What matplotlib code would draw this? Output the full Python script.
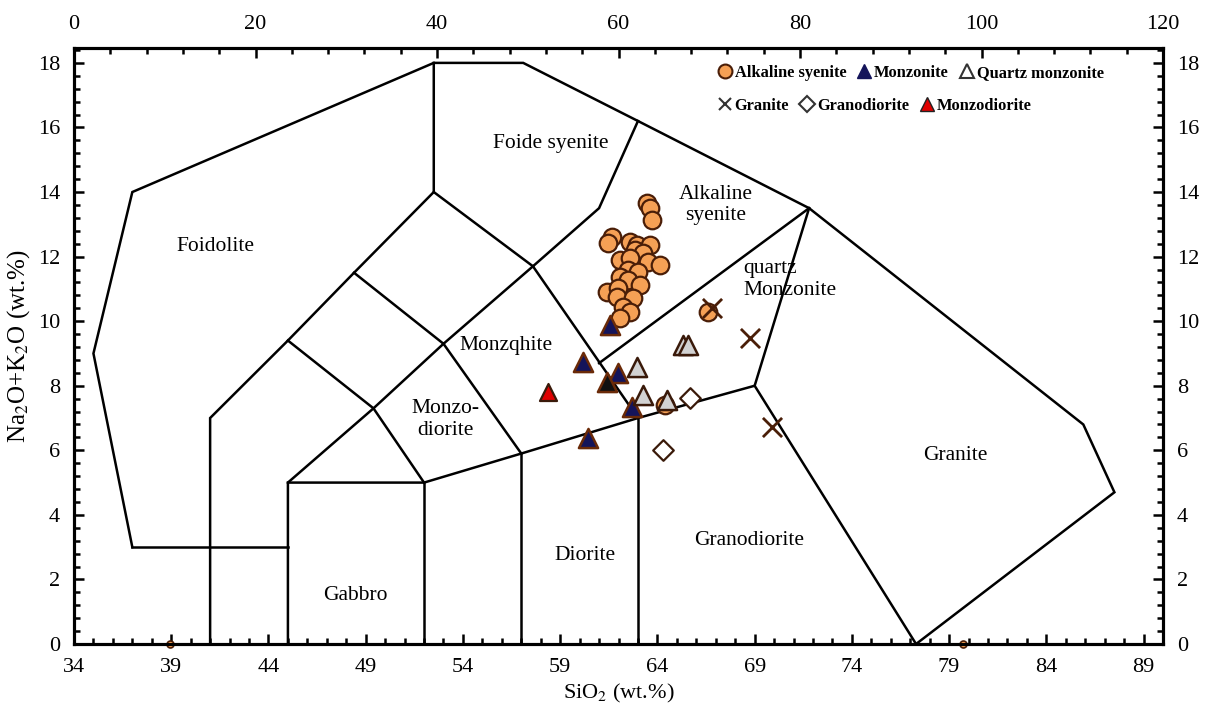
import matplotlib
matplotlib.use("Agg")
import matplotlib.pyplot as plt
from matplotlib.ticker import MultipleLocator
from matplotlib.lines import Line2D

plt.rcParams['font.family'] = ['Liberation Serif', 'DejaVu Serif']
plt.rcParams['mathtext.fontset'] = 'stix'

# TAS field boundaries (SiO2, Na2O+K2O)
boundaries = [
    [(37, 3), (35, 9), (37, 14), (52.5, 18), (57.1, 18), (63, 16.2), (71.8, 13.5),
     (85.9, 6.8), (87.5, 4.7), (77.3, 0)],
    [(37, 3), (45, 3)],
    [(41, 0), (41, 7), (45, 9.4), (48.4, 11.5), (52.5, 14), (52.5, 18)],
    [(52.5, 14), (57.6, 11.7), (61, 13.5), (63, 16.2)],
    [(48.4, 11.5), (53, 9.3), (57.6, 11.7)],
    [(45, 9.4), (49.4, 7.3), (52, 5)],
    [(45, 0), (45, 5), (49.4, 7.3), (53, 9.3)],
    [(53, 9.3), (57, 5.9)],
    [(45, 5), (52, 5), (57, 5.9), (63, 7), (69, 8), (71.8, 13.5)],
    [(57.6, 11.7), (63, 7)],
    [(61, 8.7), (71.8, 13.5)],
    [(69, 8), (77.3, 0)],
    [(52, 0), (52, 5)],
    [(57, 0), (57, 5.9)],
    [(63, 0), (63, 7)],
]

field_names = ['Foidolite', 'Foide syenite', 'Alkaline\nsyenite', 'quartz\nMonzonite',
               'Monzqhite', 'Monzo-\ndiorite', 'Diorite', 'Granodiorite', 'Granite', 'Gabbro']
field_x = [41.25, 58.5, 67.0, 68.4, 56.2, 53.1, 60.3, 68.7, 79.3, 48.45]
field_y = [12.3, 15.5, 13.6, 11.3, 9.25, 6.95, 2.75, 3.2, 5.85, 1.5]
field_ha = ['center', 'center', 'center', 'left', 'center', 'center', 'center', 'center', 'center', 'center']

# samples
alk_sio2 = [63.48, 63.63, 63.73, 61.67, 61.47, 62.60, 62.96, 63.63, 62.86, 63.27, 62.09, 62.60,
            63.53, 64.14, 62.50, 63.01, 62.09, 62.50, 63.12, 61.42, 61.98, 61.93, 62.76, 62.24,
            62.60, 62.09, 66.61, 64.40]
alk_alk = [13.66, 13.51, 13.13, 12.60, 12.42, 12.45, 12.36, 12.36, 12.21, 12.11, 11.90, 11.96,
           11.83, 11.73, 11.59, 11.52, 11.37, 11.28, 11.12, 10.90, 11.03, 10.75, 10.72, 10.44,
           10.29, 10.10, 10.29, 7.40]
zero_sio2 = [38.95, 79.7]
zero_alk = [0.0, 0.0]

mz_sio2 = [61.57, 60.18, 61.98, 62.70, 60.44]
mz_alk = [9.88, 8.74, 8.40, 7.34, 6.38]
mz_dark_sio2 = [61.42]
mz_dark_alk = [8.12]

qm_sio2 = [62.96, 63.27, 64.50, 65.33, 65.58]
qm_alk = [8.58, 7.71, 7.56, 9.26, 9.26]

gr_sio2 = [66.82, 68.77, 69.9]
gr_alk = [10.41, 9.48, 6.72]

gd_sio2 = [65.69, 64.30]
gd_alk = [7.62, 6.01]

md_sio2 = [58.38]
md_alk = [7.81]

fig = plt.figure(figsize=(12.11, 7.17), dpi=100)
ax = fig.add_axes([0.0611, 0.1018, 0.8993, 0.8312])

for seg in boundaries:
    xs = [p[0] for p in seg]
    ys = [p[1] for p in seg]
    ax.plot(xs, ys, color='black', lw=1.8, solid_joinstyle='miter', zorder=2)

for name, x, y, ha in zip(field_names, field_x, field_y, field_ha):
    ax.text(x, y, name, ha=ha, va='center', fontsize=15.5, multialignment=ha, zorder=3)

brown = '#4a1e08'
ax.scatter(alk_sio2, alk_alk, s=160, marker='o', facecolor='#f5a055', edgecolor=brown, lw=1.6, zorder=4)
ax.scatter(zero_sio2, zero_alk, s=25, marker='o', facecolor='#f5a055', edgecolor=brown, lw=1.2,
           zorder=6, clip_on=False)
ax.scatter(mz_sio2, mz_alk, s=190, marker='^', facecolor='#14145a', edgecolor='#6a2a08', lw=1.8, zorder=5)
ax.scatter(mz_dark_sio2, mz_dark_alk, s=190, marker='^', facecolor='#111111', edgecolor='#6a2a08', lw=1.8,
           zorder=5)
ax.scatter(qm_sio2, qm_alk, s=190, marker='^', facecolor='#d2d2d2', edgecolor='#3a1a0a', lw=1.8, zorder=5)
ax.scatter(gr_sio2, gr_alk, s=190, marker='x', color=brown, lw=2.0, zorder=5)
ax.scatter(gd_sio2, gd_alk, s=110, marker='D', facecolor='white', edgecolor='#3a1a0a', lw=1.6, zorder=5)
ax.scatter(md_sio2, md_alk, s=150, marker='^', facecolor='#e00000', edgecolor='#3a1a0a', lw=1.6, zorder=5)

ax.set_xlim(34, 90)
ax.set_ylim(0, 18.46)
ax.xaxis.set_minor_locator(MultipleLocator(1))
ax.yaxis.set_major_locator(MultipleLocator(2))
ax.yaxis.set_minor_locator(MultipleLocator(0.4))
ax.set_xticks(list(range(34, 90, 5)))
ax.set_xlabel('SiO$_2$ (wt.%)', fontsize=16, labelpad=4)
ax.set_ylabel('Na$_2$O+K$_2$O (wt.%)', fontsize=18, labelpad=4)

top = ax.twiny()
top.set_xlim(0, 120)
top.xaxis.set_major_locator(MultipleLocator(20))
top.xaxis.set_minor_locator(MultipleLocator(4))
right = ax.twinx()
right.set_ylim(0, 18.46)
right.yaxis.set_major_locator(MultipleLocator(2))
right.yaxis.set_minor_locator(MultipleLocator(0.4))

for a in (ax, top, right):
    a.tick_params(which='both', direction='in', labelsize=16, width=1.8, pad=10)
    a.tick_params(which='major', length=7)
    a.tick_params(which='minor', length=4)
    for sp in a.spines.values():
        sp.set_linewidth(2.2)
ax.tick_params(top=False, right=False)

h1 = [
    Line2D([], [], ls='', marker='o', ms=10, mfc='#f5a055', mec=brown, mew=1.5),
    Line2D([], [], ls='', marker='^', ms=10, mfc='#14145a', mec='#14145a'),
    Line2D([], [], ls='', marker='^', ms=10, mfc='white', mec='#333333', mew=1.5),
]
h2 = [
    Line2D([], [], ls='', marker='x', ms=8, color='#333333', mew=1.5),
    Line2D([], [], ls='', marker='D', ms=8, mfc='white', mec='#333333', mew=1.5),
    Line2D([], [], ls='', marker='^', ms=10, mfc='#e00000', mec='#222222', mew=1.0),
]
leg_kw = dict(ncol=3, frameon=False, loc='upper left', handletextpad=0.1, columnspacing=0.6,
              handlelength=1.0, prop={'size': 11.8, 'weight': 'bold'}, borderaxespad=0, borderpad=0)
leg1 = ax.legend(h1, ['Alkaline syenite', 'Monzonite', 'Quartz monzonite'],
                 bbox_to_anchor=(0.59, 0.972), **leg_kw)
ax.add_artist(leg1)
ax.legend(h2, ['Granite', 'Granodiorite', 'Monzodiorite'],
          bbox_to_anchor=(0.59, 0.917), **leg_kw)

fig.savefig('out.png', dpi=100)
